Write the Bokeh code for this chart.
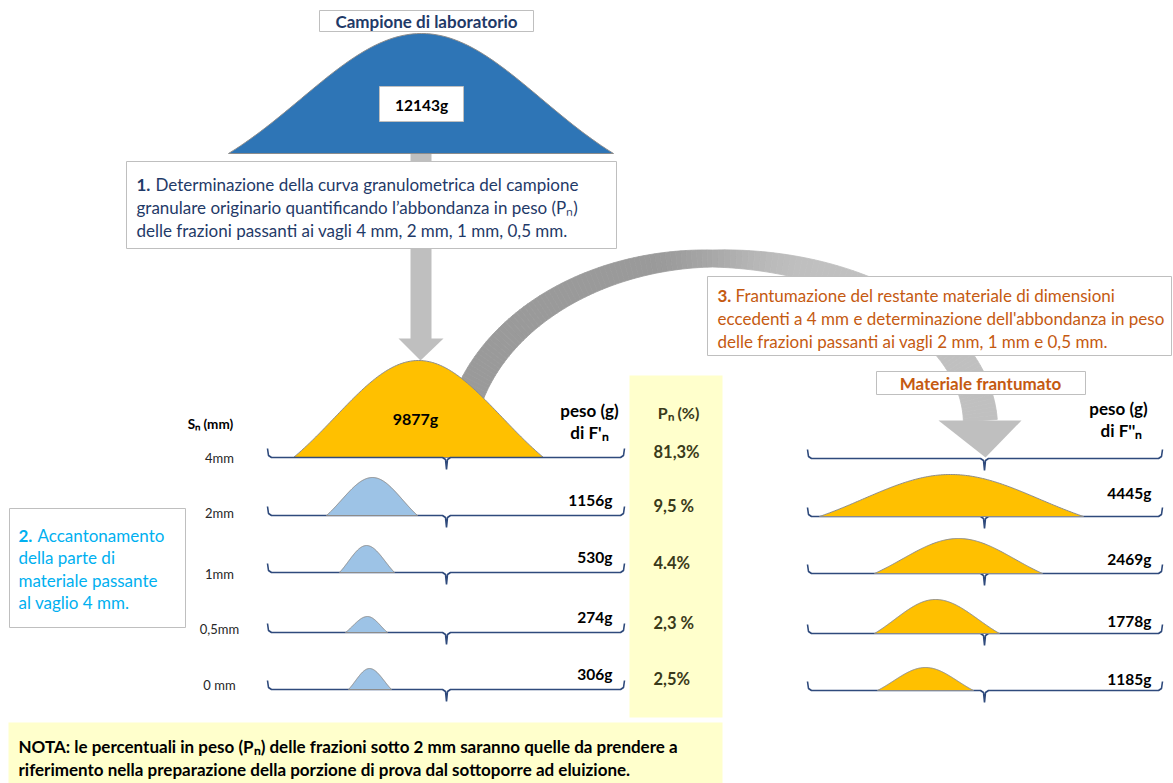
import numpy as np
from bokeh.plotting import figure
from bokeh.models import Range1d
from bokeh.core.properties import value
from bokeh.embed import file_html
from bokeh.resources import INLINE

# ---------------- data ----------------
total_weight = 12143
sieve_labels = ["4mm", "2mm", "1mm", "0,5mm", "0 mm"]
weights_f1 = [9877, 1156, 530, 274, 306]          # peso di F'n (g)
pn_labels = ["81,3%", "9,5 %", "4.4%", "2,3 %", "2,5%"]
weights_f2 = [4445, 2469, 1778, 1185]             # peso di F''n (g), rows 2mm..0 mm

step1_lines = ["Determinazione della curva granulometrica del campione",
               "granulare originario quantificando l\u2019abbondanza in peso (P\u2099)",
               "delle frazioni passanti ai vagli 4 mm, 2 mm, 1 mm, 0,5 mm."]
step2_lines = ["Accantonamento", "della parte di", "materiale passante", "al vaglio 4 mm."]
step3_lines = ["Frantumazione del restante materiale di dimensioni",
               "eccedenti a 4 mm e determinazione dell'abbondanza in peso",
               "delle frazioni passanti ai vagli 2 mm, 1 mm e 0,5 mm."]
note_lines = ["NOTA: le percentuali in peso (P\u2099) delle frazioni sotto 2 mm saranno quelle da prendere a",
              "riferimento nella preparazione della porzione di prova dal sottoporre ad eluizione."]

# ---------------- layout / style ----------------
W, H = 1173, 783
FONT = "Lato"
NAVY = "#1F3A68"
ORANGE = "#C55A11"
CYAN = "#00B0F0"
BRACE = "#2F4A7C"
BOXLINE = "#BFBFBF"
PALE = "#FFFFCC"
OLIVE = "#3A3A1A"
TXT = "17px"
NUM = "15.5px"
row_y = [457, 515, 572, 632, 689]

p = figure(width=W, height=H, x_range=Range1d(0, W), y_range=Range1d(H, 0),
           output_backend="svg", toolbar_location=None, x_axis_type=None, y_axis_type=None,
           min_border=0, min_border_left=0, min_border_right=0, min_border_top=0, min_border_bottom=0)
p.grid.visible = False
p.outline_line_color = None
p.background_fill_color = "white"
p.border_fill_color = "white"


def txt(x, y, s, size=TXT, bold=False, color="black", align="left"):
    p.text(x=[x], y=[y], text=[s], text_font=value(FONT), text_font_size=size,
           text_font_style="bold" if bold else "normal", text_color=color,
           text_align=align, text_baseline="middle")


def box(l, r, t, b, fill="white", line=BOXLINE):
    p.quad(left=[l], right=[r], top=[t], bottom=[b], fill_color=fill,
           line_color=line, line_width=1)


def pile(L, P, R, base, h, n=80, k=1.5):
    e0 = np.exp(-k * k / 2)
    xl = np.linspace(L, P, n)
    xr = np.linspace(P, R, n)
    dl = (P - xl) / (P - L) * k
    dr = (xr - P) / (R - P) * k
    yl = base - h * (np.exp(-dl ** 2 / 2) - e0) / (1 - e0)
    yr = base - h * (np.exp(-dr ** 2 / 2) - e0) / (1 - e0)
    return np.concatenate([xl, xr]), np.concatenate([yl, yr])


def draw_pile(L, P, R, base, h, fill, k=1.5):
    xs, ys = pile(L, P, R, base, h, k=k)
    p.patch(xs, ys, fill_color=fill, line_color="#8C8C8C", line_width=1)


def brace(L, R, C, y, up=9, down=12):
    xs = [L, L + 1, L + 4, C - 4, C - 1, C, C + 1, C + 4, R - 4, R - 1, R]
    ys = [y - up, y - 2, y, y, y + 2, y + down, y + 2, y, y, y - 2, y - up]
    return xs, ys


# ---- background panels ----
box(629, 722, 375, 717, fill=PALE, line=None)
box(8, 722, 722, 790, fill=PALE, line=None)

# ---- straight arrow from step 1 to sample ----
p.quad(left=[410], right=[431], top=[150], bottom=[340], fill_color=BOXLINE, line_color=None)
p.patch([398, 443, 420], [338, 338, 360], fill_color=BOXLINE, line_color=None)

# ---- curved arrow ----
cx = 712
phl = np.linspace(np.radians(170), np.radians(90), 70)
xl = cx + 255 * np.cos(phl)
yl = 454 - 196 * np.sin(phl)
phr = np.linspace(np.radians(90), np.radians(2), 70)[1:]
xr = cx + 268 * np.cos(phr)
yr = 426 - 168 * np.sin(phr)
cxs = np.concatenate([xl, xr])
cys = np.concatenate([yl, yr])
seg = np.hypot(np.diff(cxs), np.diff(cys))
s = np.concatenate([[0], np.cumsum(seg)])
s = s / s[-1]
s_top = s[len(xl) - 1]
hw = np.interp(s, [0, s_top, 1], [15, 8.5, 17])
tx = np.gradient(cxs)
ty = np.gradient(cys)
nn = np.hypot(tx, ty)
nx, ny = -ty / nn, tx / nn
ox, oy = cxs + hw * nx, cys + hw * ny
ix, iy = cxs - hw * nx, cys - hw * ny
dark = np.array([154, 154, 154])
light = np.array([192, 192, 192])
pxs, pys, cols = [], [], []
for i in range(len(cxs) - 1):
    pxs.append([ox[i], ox[i + 1], ix[i + 1], ix[i]])
    pys.append([oy[i], oy[i + 1], iy[i + 1], iy[i]])
    xm = (cxs[i] + cxs[i + 1]) / 2
    t = np.clip((xm - 640) / 170, 0, 1)
    t = t * t * (3 - 2 * t)
    c = (dark + (light - dark) * t).astype(int)
    cols.append("#%02x%02x%02x" % tuple(c))
p.patches(pxs, pys, fill_color=cols, line_color=cols, line_width=0.8)
p.patch([938, 1021, 985], [420, 420, 457], fill_color="#BFBFBF", line_color=None)

# ---- laboratory sample ----
draw_pile(228, 421, 613, 153, 120, "#2E75B6", k=1.6)
box(319, 533, 10, 31)
txt(426, 21, "Campione di laboratorio", bold=True, color=NAVY, align="center")
box(379, 463, 86, 121)
txt(421, 104, f"{total_weight}g", size=NUM, bold=True, align="center")

# ---- step 1 ----
box(126, 616, 161, 248)
txt(136, 184, "1.", bold=True, color=NAVY)
txt(155, 184, step1_lines[0], color=NAVY)
txt(136, 207, step1_lines[1], color=NAVY)
txt(136, 230, step1_lines[2], color=NAVY)

# ---- step 3 ----
box(707, 1171, 276, 355)
txt(717, 295, "3.", bold=True, color=ORANGE)
txt(735, 295, step3_lines[0], color=ORANGE)
txt(717, 318, step3_lines[1], color=ORANGE)
txt(717, 341, step3_lines[2], color=ORANGE)

box(876, 1085, 371, 394)
txt(980, 383, "Materiale frantumato", bold=True, color=ORANGE, align="center")

# ---- step 2 ----
box(9, 185, 508, 627)
txt(18, 535, "2.", bold=True, color=CYAN)
txt(37, 535, step2_lines[0], color=CYAN)
for i, line in enumerate(step2_lines[1:]):
    txt(18, 557 + 22.5 * i, line, color=CYAN)

# ---- sample fraction > 4 mm ----
draw_pile(293, 418, 543, row_y[0], 97, "#FFC000")
txt(415, 418, f"{weights_f1[0]}g", size="16px", bold=True, align="center")

# ---- column headers ----
txt(210, 423, "S\u2099 (mm)", size="13.5px", bold=True, align="center")
txt(589, 410, "peso (g)", bold=True, align="center")
txt(589, 432, "di F'\u2099", bold=True, align="center")
txt(678, 412, "P\u2099 (%)", size="16px", bold=True, color=OLIVE, align="center")
txt(1118, 408, "peso (g)", bold=True, align="center")
txt(1121, 430, "di F''\u2099", bold=True, align="center")

# ---- brackets ----
bx, by = [], []
for y in row_y:
    a, b = brace(267, 624, 446, y)
    bx.append(a); by.append(b)
    a, b = brace(807, 1162, 984, y + 1)
    bx.append(a); by.append(b)
p.multi_line(bx, by, line_color=BRACE, line_width=1.6)

# ---- sieve labels ----
sieve_y = [457, 512, 573, 628, 684]
for lab, y in zip(sieve_labels, sieve_y):
    txt(219, y, lab, size="13px", color="#262626", align="center")

# ---- passing fractions (left) ----
left_piles = [(326, 372, 417, 38), (339, 366, 394, 27), (345, 367, 387, 16), (348, 369, 391, 21)]
for (L, P, R, h), y in zip(left_piles, row_y[1:]):
    draw_pile(L, P, R, y, h, "#9DC3E6")
for w, y in zip(weights_f1[1:], row_y[1:]):
    txt(612, y - 16, f"{w}g", size=NUM, bold=True, align="right")

# ---- Pn column ----
pn_y = [451, 505, 562, 622, 678]
for lab, y in zip(pn_labels, pn_y):
    txt(653, y, lab, size="16.5px", bold=True, color=OLIVE)

# ---- crushed material (right) ----
right_piles = [(819, 950, 1083, 42), (874, 958, 1042, 35), (874, 935, 999, 34), (877, 925, 973, 23)]
for (L, P, R, h), y in zip(right_piles, row_y[1:]):
    draw_pile(L, P, R, y + 1, h, "#FFC000")
lab_y2 = [492, 558, 620, 678]
for w, y in zip(weights_f2, lab_y2):
    txt(1151, y, f"{w}g", size=NUM, bold=True, align="right")

# ---- note ----
txt(18, 746, note_lines[0], size="17px", bold=True)
txt(18, 769, note_lines[1], size="17px", bold=True)

open("out.html", "w").write(file_html(p, INLINE))
